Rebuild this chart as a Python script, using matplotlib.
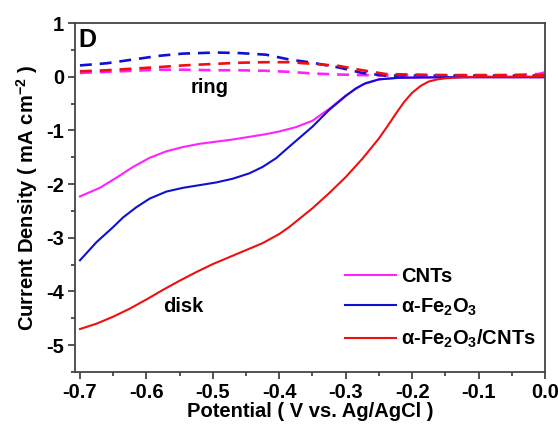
import numpy as np
import matplotlib.pyplot as plt
from matplotlib.ticker import MultipleLocator

plt.rcParams['font.family'] = ['Liberation Sans', 'DejaVu Sans']
plt.rcParams['font.weight'] = 'bold'
plt.rcParams['mathtext.fontset'] = 'custom'
plt.rcParams['mathtext.rm'] = 'Liberation Sans:bold'
plt.rcParams['mathtext.bf'] = 'Liberation Sans:bold'
plt.rcParams['mathtext.it'] = 'Liberation Sans:bold'

# disk currents (solid)
pot_cnt = [-0.70, -0.67, -0.645, -0.62, -0.595, -0.57, -0.545, -0.52, -0.495, -0.47, -0.445,
           -0.42, -0.40, -0.375, -0.35, -0.325, -0.30, -0.275, -0.25, -0.22, -0.15, -0.10, -0.05, 0.0]
cnt_disk = [-2.23, -2.07, -1.88, -1.68, -1.51, -1.39, -1.31, -1.25, -1.21, -1.17, -1.12,
            -1.07, -1.02, -0.94, -0.82, -0.60, -0.35, -0.15, -0.05, -0.02, -0.01, -0.01, -0.01, -0.01]

pot_fe = [-0.70, -0.675, -0.65, -0.635, -0.615, -0.595, -0.57, -0.545, -0.52, -0.495, -0.47,
          -0.445, -0.425, -0.405, -0.38, -0.35, -0.325, -0.30, -0.285, -0.27, -0.25, -0.22,
          -0.15, -0.10, -0.05, 0.0]
fe_disk = [-3.42, -3.08, -2.80, -2.62, -2.43, -2.27, -2.14, -2.07, -2.02, -1.97, -1.90,
           -1.80, -1.68, -1.52, -1.25, -0.93, -0.62, -0.36, -0.22, -0.12, -0.05, -0.02,
           -0.01, -0.01, -0.01, -0.01]

pot_comp = [-0.70, -0.675, -0.65, -0.625, -0.60, -0.575, -0.55, -0.525, -0.50, -0.475, -0.45,
            -0.425, -0.40, -0.385, -0.37, -0.35, -0.325, -0.30, -0.275, -0.25, -0.237, -0.224,
            -0.212, -0.20, -0.187, -0.175, -0.162, -0.15, -0.125, -0.10, -0.05, 0.0]
comp_disk = [-4.70, -4.60, -4.47, -4.32, -4.15, -3.97, -3.80, -3.64, -3.49, -3.36, -3.23,
             -3.10, -2.93, -2.80, -2.65, -2.45, -2.17, -1.87, -1.53, -1.15, -0.92, -0.68,
             -0.47, -0.30, -0.17, -0.09, -0.05, -0.03, -0.01, 0.0, 0.0, 0.0]

# ring currents (dashed)
pot_ring = [-0.70, -0.66, -0.62, -0.58, -0.545, -0.495, -0.46, -0.42, -0.385, -0.35, -0.31,
            -0.275, -0.24, -0.20, -0.15, -0.10, -0.05, -0.01, 0.0]
cnt_ring = [0.07, 0.09, 0.11, 0.13, 0.13, 0.12, 0.12, 0.11, 0.09, 0.06, 0.04,
            0.03, 0.02, 0.02, 0.02, 0.02, 0.03, 0.05, 0.08]
fe_ring = [0.21, 0.25, 0.32, 0.39, 0.43, 0.45, 0.44, 0.41, 0.32, 0.26, 0.17,
           0.07, 0.02, 0.02, 0.02, 0.02, 0.02, 0.02, 0.02]
comp_ring = [0.10, 0.12, 0.15, 0.18, 0.21, 0.24, 0.26, 0.27, 0.27, 0.24, 0.20,
             0.12, 0.05, 0.04, 0.03, 0.03, 0.03, 0.03, 0.03]

labels = ['CNTs', r'α-Fe$_2$O$_3$', r'α-Fe$_2$O$_3$/CNTs']
colors = ['#ff22ff', '#1010d0', '#ee1010']

fs = 14.5

fig = plt.figure(figsize=(5.58, 4.26), dpi=100)
ax = fig.add_axes([0.1344, 0.1268, 0.8423, 0.8192])

ax.plot(pot_ring, cnt_ring, '--', color=colors[0], lw=1.9, dashes=(4.5, 3))
ax.plot(pot_ring, fe_ring, '--', color=colors[1], lw=1.9, dashes=(4.5, 3))
ax.plot(pot_ring, comp_ring, '--', color=colors[2], lw=1.9, dashes=(4.5, 3))

ax.plot(pot_cnt, cnt_disk, color=colors[0], lw=1.5, label=labels[0])
ax.plot(pot_fe, fe_disk, color=colors[1], lw=1.5, label=labels[1])
ax.plot(pot_comp, comp_disk, color=colors[2], lw=1.5, label=labels[2])

ax.set_xlim(-0.7075, 0.0)
ax.set_ylim(-5.5, 1.0)
ax.xaxis.set_major_locator(MultipleLocator(0.1))
ax.xaxis.set_minor_locator(MultipleLocator(0.05))
ax.yaxis.set_major_locator(MultipleLocator(1))
ax.yaxis.set_minor_locator(MultipleLocator(0.5))
ax.set_xticks(np.round(np.arange(-0.7, 0.01, 0.1), 1))
ax.set_xticklabels(['-0.7', '-0.6', '-0.5', '-0.4', '-0.3', '-0.2', '-0.1', '0.0'])
ax.set_yticks([1, 0, -1, -2, -3, -4, -5])
ax.set_yticklabels(['1', '0', '-1', '-2', '-3', '-4', '-5'])

for sp in ax.spines.values():
    sp.set_color('#444444')
    sp.set_linewidth(1.3)
ax.tick_params(which='both', direction='out', color='#444444', width=1.3, labelsize=fs)
ax.tick_params(which='major', length=5, pad=3)
ax.tick_params(which='minor', length=3)

ax.set_xlabel('Potential ( V vs. Ag/AgCl )', fontsize=fs, fontweight='bold', labelpad=0)
ax.set_ylabel(r'Current Density ( mA cm$^{-2}$ )', fontsize=fs, fontweight='bold', labelpad=4)

ax.text(0.008, 0.985, 'D', transform=ax.transAxes, fontsize=18, fontweight='bold', va='top')
ax.text(-0.505, -0.2, 'ring', fontsize=fs, fontweight='bold', ha='center', va='center')
ax.text(-0.545, -4.28, 'disk', fontsize=fs, fontweight='bold', ha='center', va='center')

leg = ax.legend(loc='lower right', bbox_to_anchor=(1.018, 0.01), frameon=False, fontsize=fs,
                handlelength=2.5, handletextpad=0.25, labelspacing=0.52)

fig.savefig('out.png', dpi=100)
